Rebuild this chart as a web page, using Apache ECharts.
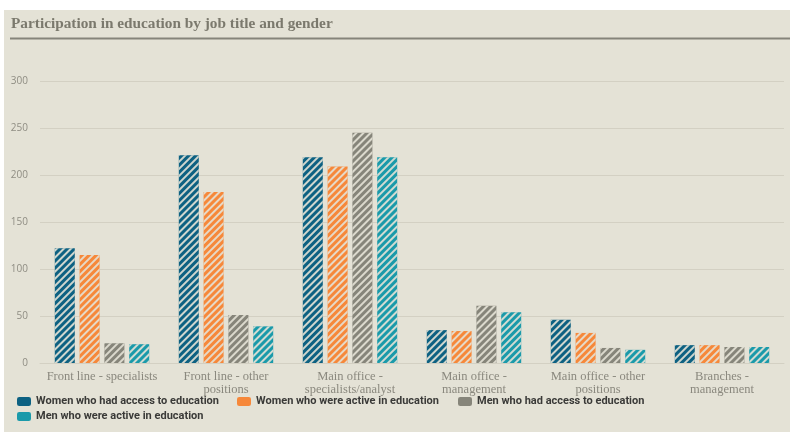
<!DOCTYPE html>
<html><head><meta charset="utf-8">
<script src="https://cdn.jsdelivr.net/npm/echarts@6/dist/echarts.min.js"></script>
<style>html,body{margin:0;padding:0;background:#fff}#c{width:790px;height:432px}</style>
</head><body><div id="c"></div>
<script>
const titleText = 'Participation in education by job title and gender';
const categories = ['Front line - specialists', 'Front line - other\npositions', 'Main office -\nspecialists/analyst', 'Main office -\nmanagement', 'Main office - other\npositions', 'Branches -\nmanagement'];
const seriesNames = ['Women who had access to education', 'Women who were active in education', 'Men who had access to education', 'Men who were active in education'];
const womenAccess = [122, 221, 219, 35, 46, 19];
const womenActive = [115, 182, 209, 34, 32, 19];
const menAccess = [21, 51, 245, 61, 16, 17];
const menActive = [20, 39, 219, 54, 14, 17];
const yTicks = [0, 50, 100, 150, 200, 250, 300];

const colors = ['#0d6182', '#f6883a', '#86857a', '#1a9aaa'];
const values = [womenAccess, womenActive, menAccess, menActive];
const stripe = {symbol: 'rect', symbolSize: 1, dashArrayX: [[1, 0]], dashArrayY: [1.6, 2.8], rotation: -Math.PI / 4, color: 'rgba(228,226,214,0.9)'};

const chart = echarts.init(document.getElementById('c'), null, {renderer: 'canvas'});
const legendPos = [[17, 396], [237, 396], [458, 396], [17, 411]];
chart.setOption({
  backgroundColor: '#ffffff',
  animation: false,
  aria: {enabled: true, decal: {show: true}},
  graphic: [
    {type: 'rect', left: 4, top: 10, z: -10, shape: {width: 786, height: 422}, style: {fill: '#e4e2d6'}},
    {type: 'rect', left: 10, top: 37.5, z: -5, shape: {width: 780, height: 2}, style: {fill: '#85847a'}}
  ],
  title: {text: titleText, left: 11, top: 17, padding: 0, textStyle: {fontFamily: 'Liberation Serif', fontWeight: 'bold', fontSize: 15.3, color: '#7b796d'}},
  legend: legendPos.map((p, i) => ({
    data: [seriesNames[i]], left: p[0], top: p[1], itemWidth: 14, itemHeight: 9, padding: 0,
    itemStyle: {decal: 'none'},
    textStyle: {fontFamily: 'Roboto', fontWeight: 'bold', fontSize: 11, color: '#3a3a38'}
  })),
  grid: {left: 40, right: 6, top: 81, bottom: 69},
  xAxis: {
    type: 'category', data: categories,
    axisLine: {lineStyle: {color: '#d3d0c3'}}, axisTick: {show: false},
    axisLabel: {interval: 0, margin: 7, lineHeight: 13, fontFamily: 'Liberation Serif', fontSize: 12.5, color: '#8a887e'}
  },
  yAxis: {
    type: 'value', min: 0, max: 300, interval: 50,
    axisLine: {show: false}, axisTick: {show: false},
    axisLabel: {margin: 12, fontFamily: 'Open Sans', fontSize: 10, color: '#8f8d83', formatter: v => yTicks.includes(v) ? String(v) : ''},
    splitLine: {lineStyle: {color: '#d3d0c3'}}
  },
  series: values.map((d, i) => ({
    type: 'bar', name: seriesNames[i], data: d, barWidth: 20, barGap: '24%',
    itemStyle: {color: colors[i], decal: stripe}
  }))
});
</script></body></html>
